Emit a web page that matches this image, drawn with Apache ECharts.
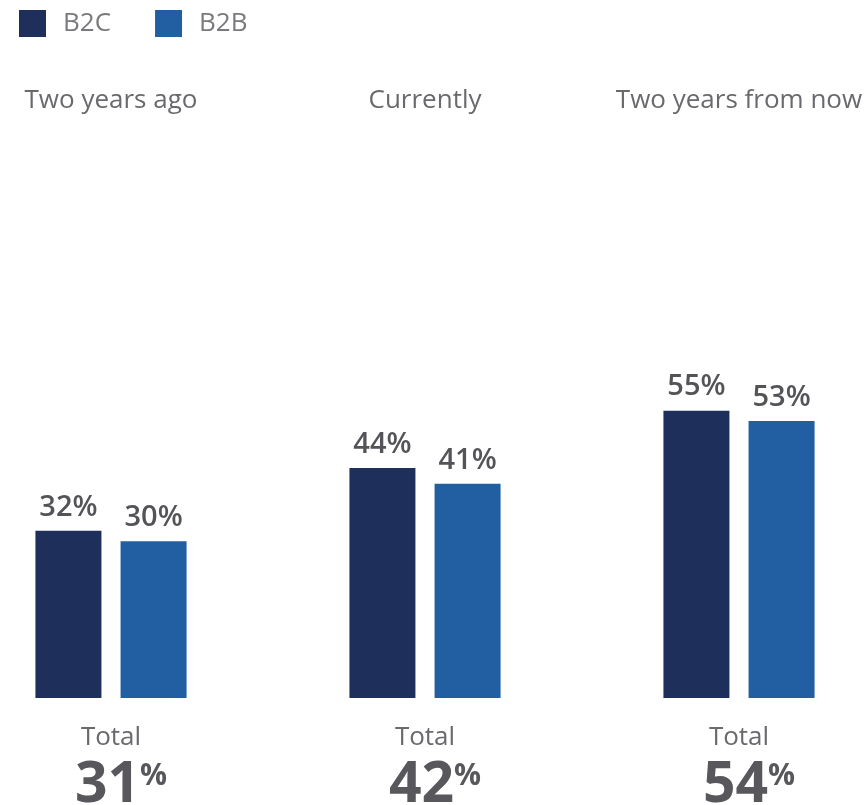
<!DOCTYPE html>
<html>
<head>
<meta charset="utf-8">
<script src="https://cdn.jsdelivr.net/npm/echarts@6/dist/echarts.min.js"></script>
<style>
  html, body { margin: 0; padding: 0; background: #ffffff; }
  #chart { width: 864px; height: 805px; }
</style>
</head>
<body>
<div id="chart"></div>
<script>
// Periods shown along the chart
const periods = ['Two years ago', 'Currently', 'Two years from now'];
// Share per segment (%)
const b2c = [32, 44, 55];
const b2b = [30, 41, 53];
// Overall share per period (%)
const totals = [31, 42, 54];

const FONT = '"Open Sans", "Noto Sans", sans-serif';
const chart = echarts.init(document.getElementById('chart'));

const valueLabel = {
  show: true,
  position: 'top',
  distance: 9,
  formatter: '{c}%',
  color: '#545458',
  fontFamily: FONT,
  fontSize: 29,
  fontWeight: 600
};

chart.setOption({
  animation: false,
  legend: {
    left: 14,
    top: 5,
    itemWidth: 27,
    itemHeight: 27,
    itemGap: 44,
    icon: 'rect',
    textStyle: { color: '#7a7a7e', fontFamily: FONT, fontSize: 26, padding: [0, 0, 0, 12] },
    data: ['B2C', 'B2B']
  },
  grid: { left: -46, width: 942, top: 175.5, bottom: 107, outerBoundsMode: 'none' },
  xAxis: [
    {
      type: 'category',
      data: periods.map((p, i) => i),
      position: 'bottom',
      axisLine: { show: false },
      axisTick: { show: false },
      axisLabel: {
        margin: 22,
        interval: 0,
        formatter: (v, i) => '{t|Total}\n{big|' + totals[i] + '}{pct|%}',
        rich: {
          t: { fontSize: 26, fontFamily: FONT, color: '#6a6a6e', lineHeight: 36 },
          big: { fontSize: 57, fontFamily: FONT, fontWeight: 'bold', color: '#58585c', lineHeight: 60, padding: [0, 0, 0, 20] },
          pct: { fontSize: 30, fontFamily: FONT, fontWeight: 'bold', color: '#58585c', lineHeight: 60, padding: [0, 0, 20, 0] }
        }
      }
    },
    {
      type: 'category',
      data: periods,
      position: 'top',
      axisLine: { show: false },
      axisTick: { show: false },
      axisLabel: {
        margin: 62,
        interval: 0,
        color: '#6a6a6e',
        fontFamily: FONT,
        fontSize: 26
      }
    }
  ],
  yAxis: { type: 'value', min: 0, max: 100, show: false, splitLine: { show: false } },
  series: [
    {
      name: 'B2C',
      type: 'bar',
      data: b2c,
      barWidth: 66,
      barGap: '29%',
      itemStyle: { color: '#1e2f5c' },
      label: valueLabel
    },
    {
      name: 'B2B',
      type: 'bar',
      data: b2b,
      barWidth: 66,
      itemStyle: { color: '#215fa2' },
      label: valueLabel
    }
  ]
});
</script>
</body>
</html>
